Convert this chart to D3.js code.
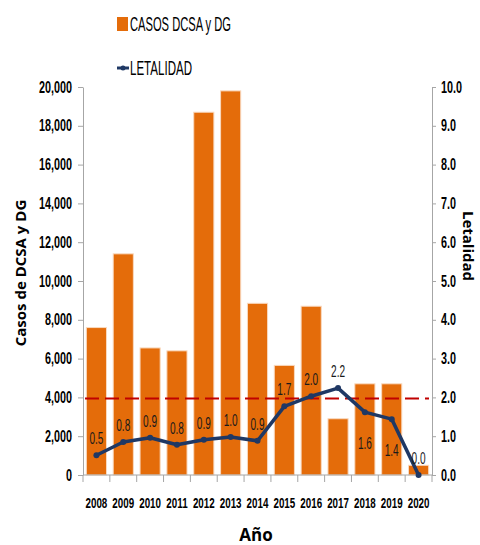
<!DOCTYPE html>
<html>
<head>
<meta charset="utf-8">
<script src="https://cdn.jsdelivr.net/npm/d3@7"></script>
<style>
  body { margin: 0; background: #fff; }
  .tick text { font-family: "Liberation Sans", Arial, sans-serif; font-weight: bold; fill: #000; }
  .tick line, .domain { stroke: #a6a6a6; }
</style>
</head>
<body>
<div id="chart"></div>
<script>
// datos
var anios = ["2008","2009","2010","2011","2012","2013","2014","2015","2016","2017","2018","2019","2020"];
var casos = [7600, 11400, 6550, 6400, 18700, 19800, 8850, 5650, 8700, 2900, 4700, 4700, 500];
var letalidad = [0.5, 0.8, 0.9, 0.8, 0.9, 1.0, 0.9, 1.7, 2.0, 2.2, 1.6, 1.4, 0.0];
// posicion real de los puntos (las etiquetas redondean)
var letalidadPuntos = [0.51, 0.85, 0.96, 0.78, 0.91, 0.98, 0.88, 1.77, 2.03, 2.24, 1.62, 1.44, 0.0];
var ticksCasos = [0, 2000, 4000, 6000, 8000, 10000, 12000, 14000, 16000, 18000, 20000];
var ticksLetalidad = [0, 1, 2, 3, 4, 5, 6, 7, 8, 9, 10];
var umbralLetalidad = 1.97;
// etiquetas que van debajo del punto
var etiquetaAbajo = ["2018", "2019"];

var width = 480, height = 545;
var mLeft = 83, mRight = 432, mTop = 87, mBottom = 475;

// texto angosto: ancho aproximado por caracter
function anchoAngosto(s, dig, punt) {
    var w = 0;
    for (var i = 0; i < s.length; i++) {
        w += (s[i] === "," || s[i] === ".") ? punt : dig;
    }
    return w;
}

var svg = d3.select("#chart").append("svg")
    .attr("width", width)
    .attr("height", height);

var x = d3.scaleBand()
    .domain(anios)
    .range([mLeft, mRight])
    .paddingInner(0.25)
    .paddingOuter(0.125);

var yCasos = d3.scaleLinear().domain([0, 20000]).range([mBottom, mTop]);
var yLet = d3.scaleLinear().domain([0, 10]).range([mBottom, mTop]);

// ejes
svg.append("g")
    .attr("transform", "translate(" + mLeft + ",0)")
    .call(d3.axisLeft(yCasos).tickValues(ticksCasos).tickFormat(d3.format(",")).tickSize(5).tickSizeOuter(0).tickPadding(6))
    .selectAll("text")
    .style("font-size", "16px")
    .attr("textLength", function () { return anchoAngosto(this.textContent, 6, 3); })
    .attr("lengthAdjust", "spacingAndGlyphs");

svg.append("g")
    .attr("transform", "translate(" + mRight + ",0)")
    .call(d3.axisRight(yLet).tickValues(ticksLetalidad).tickFormat(d3.format(".1f")).tickSize(4).tickSizeOuter(0).tickPadding(5))
    .selectAll("text")
    .style("font-size", "16px")
    .attr("textLength", function () { return anchoAngosto(this.textContent, 6, 3); })
    .attr("lengthAdjust", "spacingAndGlyphs");

// barras
svg.selectAll(".bar")
    .data(anios)
    .enter()
    .append("rect")
    .attr("class", "bar")
    .attr("x", function (d) { return x(d); })
    .attr("width", x.bandwidth())
    .attr("y", function (d, i) { return yCasos(casos[i]); })
    .attr("height", function (d, i) { return mBottom - yCasos(casos[i]); })
    .attr("fill", "#e46c0a")
    .attr("stroke", "#f9d9bf")
    .attr("stroke-width", 1);

// eje x
var gx = svg.append("g").attr("transform", "translate(0," + mBottom + ")");
gx.append("line")
    .attr("x1", mLeft).attr("x2", mRight)
    .attr("stroke", "#a6a6a6");
var bordes = anios.map(function (d) { return x(d) - (x.step() - x.bandwidth()) / 2; });
bordes.push(mRight);
gx.selectAll(".xtick")
    .data(bordes)
    .enter()
    .append("line")
    .attr("x1", function (d) { return d; })
    .attr("x2", function (d) { return d; })
    .attr("y1", 0).attr("y2", 7)
    .attr("stroke", "#a6a6a6");
// años angostos con escala horizontal
gx.selectAll(".xlabel")
    .data(anios)
    .enter()
    .append("text")
    .attr("transform", function (d) {
        return "translate(" + (x(d) + x.bandwidth() / 2) + ",33) scale(0.7,1)";
    })
    .attr("text-anchor", "middle")
    .style("font-family", "'Liberation Sans', Arial, sans-serif")
    .style("font-weight", "bold")
    .style("font-size", "14px")
    .text(function (d) { return d; });

// linea de referencia
svg.append("line")
    .attr("x1", mLeft + 2).attr("x2", mRight - 3)
    .attr("y1", yLet(umbralLetalidad)).attr("y2", yLet(umbralLetalidad))
    .attr("stroke", "#c00000")
    .attr("stroke-width", 2)
    .attr("stroke-dasharray", "14,6");

// letalidad
var linea = d3.line()
    .x(function (d, i) { return x(anios[i]) + x.bandwidth() / 2; })
    .y(function (d) { return yLet(d); });

svg.append("path")
    .datum(letalidadPuntos)
    .attr("d", linea)
    .attr("fill", "none")
    .attr("stroke", "#1f3864")
    .attr("stroke-width", 3.5)
    .attr("stroke-linejoin", "round");

svg.selectAll(".punto")
    .data(letalidadPuntos)
    .enter()
    .append("circle")
    .attr("cx", function (d, i) { return x(anios[i]) + x.bandwidth() / 2; })
    .attr("cy", function (d) { return yLet(d); })
    .attr("r", 3)
    .attr("fill", "#1f3864");

svg.selectAll(".etiqueta")
    .data(letalidad)
    .enter()
    .append("text")
    .attr("x", function (d, i) { return x(anios[i]) + x.bandwidth() / 2 - 7; })
    .attr("y", function (d, i) {
        var py = yLet(letalidadPuntos[i]);
        return etiquetaAbajo.indexOf(anios[i]) >= 0 ? py + 37 : py - 11;
    })
    .attr("textLength", 14)
    .attr("lengthAdjust", "spacingAndGlyphs")
    .style("font-family", "'Liberation Sans', Arial, sans-serif")
    .style("font-size", "16px")
    .attr("fill", "#1a1a1a")
    .text(function (d) { return d.toFixed(1); });

// titulos
svg.append("text")
    .attr("transform", "translate(26,273) rotate(-90)")
    .attr("text-anchor", "middle")
    .style("font-family", "'Open Sans', sans-serif")
    .style("font-weight", "bold")
    .style("font-size", "15px")
    .text("Casos de DCSA y DG");

svg.append("text")
    .attr("transform", "translate(463,246) rotate(90)")
    .attr("text-anchor", "middle")
    .style("font-family", "'Open Sans', sans-serif")
    .style("font-weight", "bold")
    .style("font-size", "15px")
    .text("Letalidad");

svg.append("text")
    .attr("x", 256).attr("y", 541)
    .attr("text-anchor", "middle")
    .style("font-family", "'Open Sans', sans-serif")
    .style("font-weight", "bold")
    .style("font-size", "17px")
    .text("Año");

// leyenda
var leyenda = svg.append("g");
leyenda.append("rect")
    .attr("x", 117).attr("y", 17)
    .attr("width", 11).attr("height", 14)
    .attr("fill", "#e46c0a");
leyenda.append("text")
    .attr("x", 130).attr("y", 31)
    .attr("textLength", 101)
    .attr("lengthAdjust", "spacingAndGlyphs")
    .style("font-family", "'Liberation Sans', Arial, sans-serif")
    .style("font-size", "20px")
    .text("CASOS DCSA y DG");
leyenda.append("line")
    .attr("x1", 117).attr("x2", 129)
    .attr("y1", 68).attr("y2", 68)
    .attr("stroke", "#1f3864").attr("stroke-width", 3);
leyenda.append("circle")
    .attr("cx", 123).attr("cy", 68).attr("r", 2.5)
    .attr("fill", "#1f3864");
leyenda.append("text")
    .attr("x", 130).attr("y", 75)
    .attr("textLength", 62)
    .attr("lengthAdjust", "spacingAndGlyphs")
    .style("font-family", "'Liberation Sans', Arial, sans-serif")
    .style("font-size", "20px")
    .text("LETALIDAD");
</script>
</body>
</html>
